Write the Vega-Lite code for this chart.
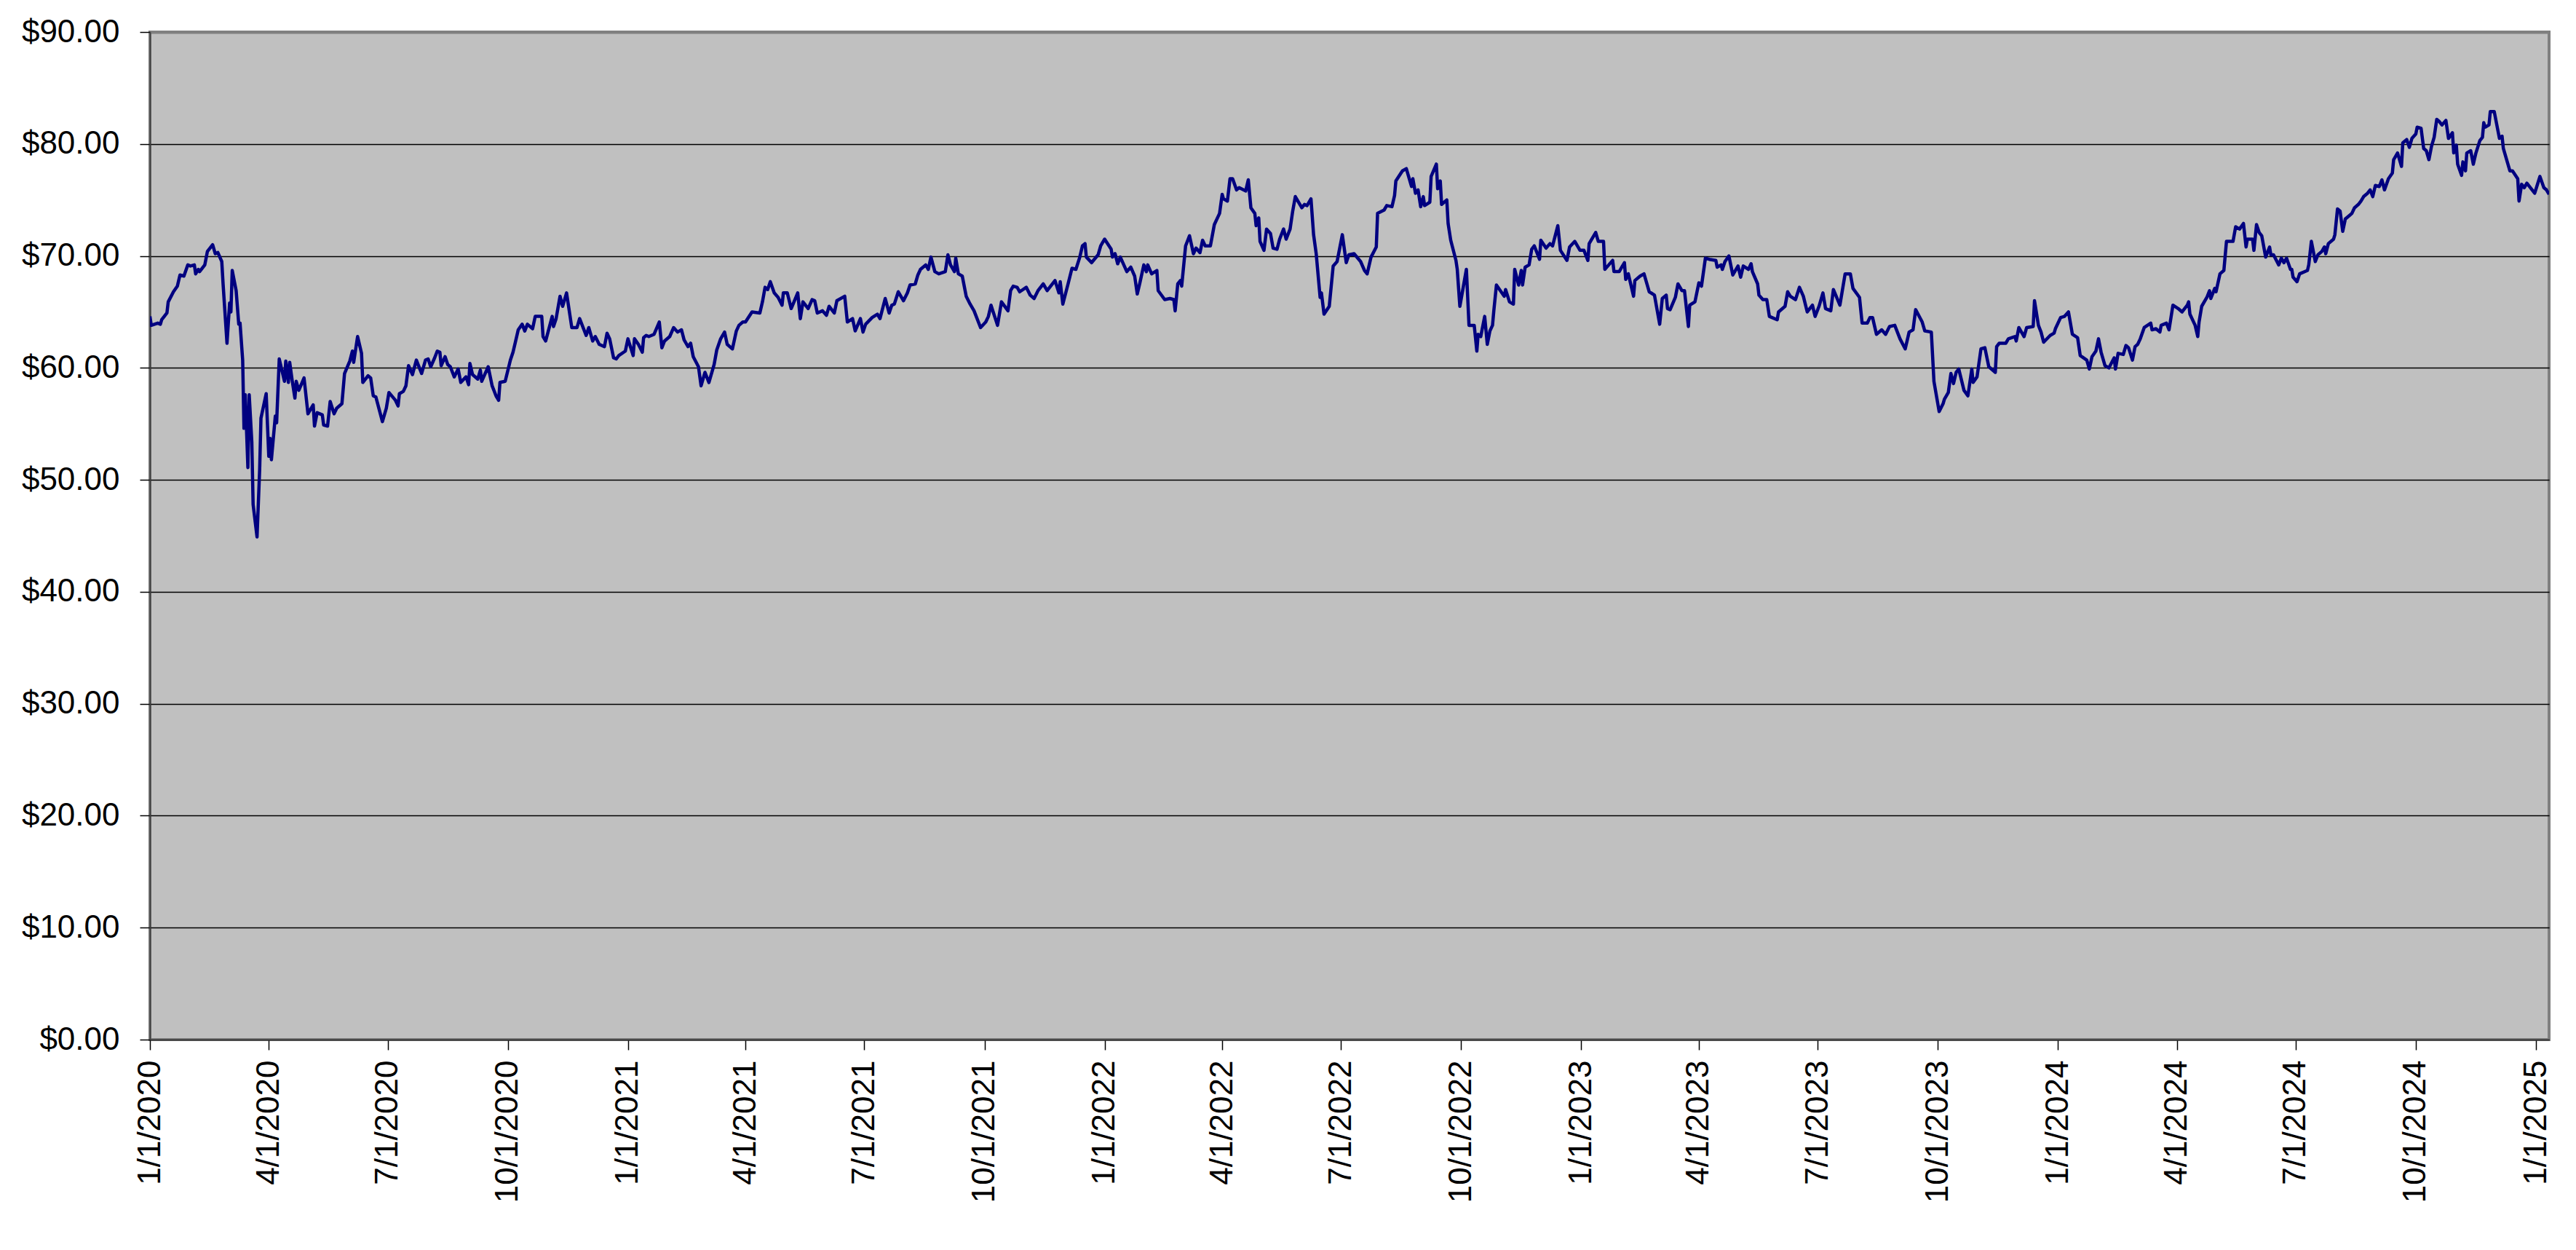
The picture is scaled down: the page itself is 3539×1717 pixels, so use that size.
{
  "$schema": "https://vega.github.io/schema/vega-lite/v6.json",
  "description": "Daily closing price, 1/1/2020 to 1/11/2025",
  "width": 3296,
  "height": 1384,
  "autosize": {"type": "none"},
  "padding": {"left": 206, "top": 44, "right": 37, "bottom": 289},
  "background": "white",
  "data": {
    "values": [
      {"date": "2020-01-01", "price": 64.6}, {"date": "2020-01-02", "price": 63.8}, {"date": "2020-01-07", "price": 64.0}, {"date": "2020-01-09", "price": 63.9},
      {"date": "2020-01-10", "price": 64.3}, {"date": "2020-01-14", "price": 64.9}, {"date": "2020-01-15", "price": 65.9}, {"date": "2020-01-19", "price": 66.8},
      {"date": "2020-01-22", "price": 67.3}, {"date": "2020-01-24", "price": 68.3}, {"date": "2020-01-27", "price": 68.2}, {"date": "2020-01-30", "price": 69.2},
      {"date": "2020-02-01", "price": 69.1}, {"date": "2020-02-04", "price": 69.2}, {"date": "2020-02-05", "price": 68.4}, {"date": "2020-02-07", "price": 68.8},
      {"date": "2020-02-08", "price": 68.6}, {"date": "2020-02-12", "price": 69.2}, {"date": "2020-02-14", "price": 70.4}, {"date": "2020-02-18", "price": 71.0},
      {"date": "2020-02-20", "price": 70.2}, {"date": "2020-02-22", "price": 70.3}, {"date": "2020-02-25", "price": 69.5}, {"date": "2020-02-26", "price": 67.5},
      {"date": "2020-02-29", "price": 62.2}, {"date": "2020-03-02", "price": 65.8}, {"date": "2020-03-03", "price": 65.0}, {"date": "2020-03-04", "price": 68.7},
      {"date": "2020-03-07", "price": 66.9}, {"date": "2020-03-09", "price": 63.9}, {"date": "2020-03-10", "price": 64.0}, {"date": "2020-03-12", "price": 60.7},
      {"date": "2020-03-13", "price": 54.6}, {"date": "2020-03-14", "price": 57.6}, {"date": "2020-03-16", "price": 51.1}, {"date": "2020-03-17", "price": 57.6},
      {"date": "2020-03-19", "price": 53.4}, {"date": "2020-03-20", "price": 47.8}, {"date": "2020-03-23", "price": 44.9}, {"date": "2020-03-25", "price": 50.9},
      {"date": "2020-03-26", "price": 55.5}, {"date": "2020-03-30", "price": 57.7}, {"date": "2020-04-01", "price": 52.1}, {"date": "2020-04-02", "price": 53.7},
      {"date": "2020-04-03", "price": 51.8}, {"date": "2020-04-06", "price": 55.7}, {"date": "2020-04-07", "price": 55.1}, {"date": "2020-04-09", "price": 60.8},
      {"date": "2020-04-13", "price": 58.8}, {"date": "2020-04-14", "price": 60.6}, {"date": "2020-04-16", "price": 58.7}, {"date": "2020-04-17", "price": 60.5},
      {"date": "2020-04-19", "price": 58.8}, {"date": "2020-04-21", "price": 57.3}, {"date": "2020-04-22", "price": 58.8}, {"date": "2020-04-24", "price": 58.0},
      {"date": "2020-04-28", "price": 59.1}, {"date": "2020-05-01", "price": 55.9}, {"date": "2020-05-05", "price": 56.7}, {"date": "2020-05-06", "price": 54.8},
      {"date": "2020-05-08", "price": 56.0}, {"date": "2020-05-12", "price": 55.8}, {"date": "2020-05-13", "price": 54.9}, {"date": "2020-05-16", "price": 54.8},
      {"date": "2020-05-18", "price": 57.0}, {"date": "2020-05-21", "price": 55.9}, {"date": "2020-05-23", "price": 56.4}, {"date": "2020-05-27", "price": 56.8},
      {"date": "2020-05-29", "price": 59.5}, {"date": "2020-06-02", "price": 60.6}, {"date": "2020-06-04", "price": 61.5}, {"date": "2020-06-05", "price": 60.5},
      {"date": "2020-06-08", "price": 62.8}, {"date": "2020-06-11", "price": 61.3}, {"date": "2020-06-12", "price": 58.7}, {"date": "2020-06-16", "price": 59.3},
      {"date": "2020-06-18", "price": 59.1}, {"date": "2020-06-20", "price": 57.5}, {"date": "2020-06-22", "price": 57.4}, {"date": "2020-06-27", "price": 55.2},
      {"date": "2020-06-30", "price": 56.4}, {"date": "2020-07-02", "price": 57.8}, {"date": "2020-07-07", "price": 57.1}, {"date": "2020-07-09", "price": 56.6},
      {"date": "2020-07-10", "price": 57.7}, {"date": "2020-07-13", "price": 57.9}, {"date": "2020-07-15", "price": 58.4}, {"date": "2020-07-17", "price": 60.2},
      {"date": "2020-07-20", "price": 59.4}, {"date": "2020-07-23", "price": 60.7}, {"date": "2020-07-27", "price": 59.5}, {"date": "2020-07-30", "price": 60.7},
      {"date": "2020-08-01", "price": 60.8}, {"date": "2020-08-03", "price": 60.1}, {"date": "2020-08-06", "price": 60.9}, {"date": "2020-08-08", "price": 61.5},
      {"date": "2020-08-10", "price": 61.4}, {"date": "2020-08-11", "price": 60.2}, {"date": "2020-08-14", "price": 61.0}, {"date": "2020-08-16", "price": 60.3},
      {"date": "2020-08-18", "price": 60.1}, {"date": "2020-08-21", "price": 59.2}, {"date": "2020-08-24", "price": 59.9}, {"date": "2020-08-26", "price": 58.7},
      {"date": "2020-08-30", "price": 59.2}, {"date": "2020-09-01", "price": 58.5}, {"date": "2020-09-02", "price": 60.4}, {"date": "2020-09-04", "price": 59.4},
      {"date": "2020-09-08", "price": 59.0}, {"date": "2020-09-10", "price": 59.8}, {"date": "2020-09-11", "price": 58.8}, {"date": "2020-09-16", "price": 60.1},
      {"date": "2020-09-19", "price": 58.4}, {"date": "2020-09-22", "price": 57.5}, {"date": "2020-09-24", "price": 57.1}, {"date": "2020-09-25", "price": 58.7},
      {"date": "2020-09-29", "price": 58.8}, {"date": "2020-10-03", "price": 60.7}, {"date": "2020-10-05", "price": 61.4}, {"date": "2020-10-07", "price": 62.4},
      {"date": "2020-10-09", "price": 63.4}, {"date": "2020-10-12", "price": 63.9}, {"date": "2020-10-14", "price": 63.3}, {"date": "2020-10-16", "price": 63.9},
      {"date": "2020-10-20", "price": 63.5}, {"date": "2020-10-22", "price": 64.6}, {"date": "2020-10-27", "price": 64.6}, {"date": "2020-10-28", "price": 62.8},
      {"date": "2020-10-30", "price": 62.4}, {"date": "2020-11-04", "price": 64.6}, {"date": "2020-11-05", "price": 63.7}, {"date": "2020-11-07", "price": 64.4},
      {"date": "2020-11-10", "price": 66.4}, {"date": "2020-11-12", "price": 65.5}, {"date": "2020-11-15", "price": 66.7}, {"date": "2020-11-19", "price": 63.6},
      {"date": "2020-11-23", "price": 63.6}, {"date": "2020-11-25", "price": 64.4}, {"date": "2020-11-30", "price": 62.9}, {"date": "2020-12-02", "price": 63.6},
      {"date": "2020-12-05", "price": 62.4}, {"date": "2020-12-07", "price": 62.8}, {"date": "2020-12-10", "price": 62.1}, {"date": "2020-12-14", "price": 61.9},
      {"date": "2020-12-16", "price": 63.1}, {"date": "2020-12-18", "price": 62.6}, {"date": "2020-12-21", "price": 60.9}, {"date": "2020-12-23", "price": 60.8},
      {"date": "2020-12-25", "price": 61.1}, {"date": "2020-12-30", "price": 61.5}, {"date": "2021-01-01", "price": 62.6}, {"date": "2021-01-05", "price": 61.1},
      {"date": "2021-01-06", "price": 62.6}, {"date": "2021-01-09", "price": 62.1}, {"date": "2021-01-12", "price": 61.4}, {"date": "2021-01-13", "price": 62.7},
      {"date": "2021-01-15", "price": 62.9}, {"date": "2021-01-17", "price": 62.8}, {"date": "2021-01-21", "price": 63.0}, {"date": "2021-01-25", "price": 64.1},
      {"date": "2021-01-27", "price": 61.8}, {"date": "2021-01-29", "price": 62.4}, {"date": "2021-02-02", "price": 62.8}, {"date": "2021-02-05", "price": 63.6},
      {"date": "2021-02-08", "price": 63.2}, {"date": "2021-02-11", "price": 63.4}, {"date": "2021-02-13", "price": 62.5}, {"date": "2021-02-16", "price": 61.9},
      {"date": "2021-02-18", "price": 62.2}, {"date": "2021-02-20", "price": 61.0}, {"date": "2021-02-24", "price": 60.1}, {"date": "2021-02-26", "price": 58.4},
      {"date": "2021-03-01", "price": 59.6}, {"date": "2021-03-04", "price": 58.7}, {"date": "2021-03-08", "price": 60.3}, {"date": "2021-03-10", "price": 61.6},
      {"date": "2021-03-13", "price": 62.6}, {"date": "2021-03-16", "price": 63.2}, {"date": "2021-03-18", "price": 62.1}, {"date": "2021-03-22", "price": 61.7},
      {"date": "2021-03-25", "price": 63.3}, {"date": "2021-03-27", "price": 63.8}, {"date": "2021-03-30", "price": 64.1}, {"date": "2021-04-01", "price": 64.1},
      {"date": "2021-04-06", "price": 65.0}, {"date": "2021-04-12", "price": 64.9}, {"date": "2021-04-14", "price": 65.9}, {"date": "2021-04-16", "price": 67.2},
      {"date": "2021-04-18", "price": 67.0}, {"date": "2021-04-20", "price": 67.7}, {"date": "2021-04-23", "price": 66.7}, {"date": "2021-04-26", "price": 66.3},
      {"date": "2021-04-29", "price": 65.6}, {"date": "2021-04-30", "price": 66.7}, {"date": "2021-05-03", "price": 66.7}, {"date": "2021-05-06", "price": 65.3},
      {"date": "2021-05-11", "price": 66.7}, {"date": "2021-05-13", "price": 64.4}, {"date": "2021-05-15", "price": 65.9}, {"date": "2021-05-19", "price": 65.3},
      {"date": "2021-05-22", "price": 66.1}, {"date": "2021-05-24", "price": 66.0}, {"date": "2021-05-26", "price": 64.9}, {"date": "2021-05-30", "price": 65.1},
      {"date": "2021-06-02", "price": 64.7}, {"date": "2021-06-04", "price": 65.5}, {"date": "2021-06-08", "price": 64.9}, {"date": "2021-06-10", "price": 66.0},
      {"date": "2021-06-16", "price": 66.4}, {"date": "2021-06-18", "price": 64.1}, {"date": "2021-06-22", "price": 64.4}, {"date": "2021-06-24", "price": 63.3},
      {"date": "2021-06-28", "price": 64.4}, {"date": "2021-06-30", "price": 63.2}, {"date": "2021-07-02", "price": 63.9}, {"date": "2021-07-07", "price": 64.5},
      {"date": "2021-07-11", "price": 64.8}, {"date": "2021-07-13", "price": 64.4}, {"date": "2021-07-17", "price": 66.2}, {"date": "2021-07-20", "price": 64.9},
      {"date": "2021-07-22", "price": 65.6}, {"date": "2021-07-24", "price": 65.7}, {"date": "2021-07-27", "price": 66.8}, {"date": "2021-07-31", "price": 66.0},
      {"date": "2021-08-03", "price": 66.7}, {"date": "2021-08-05", "price": 67.4}, {"date": "2021-08-09", "price": 67.5}, {"date": "2021-08-11", "price": 68.3},
      {"date": "2021-08-13", "price": 68.8}, {"date": "2021-08-17", "price": 69.2}, {"date": "2021-08-19", "price": 68.8}, {"date": "2021-08-21", "price": 69.9},
      {"date": "2021-08-24", "price": 68.6}, {"date": "2021-08-27", "price": 68.4}, {"date": "2021-09-01", "price": 68.6}, {"date": "2021-09-03", "price": 70.1},
      {"date": "2021-09-05", "price": 69.2}, {"date": "2021-09-08", "price": 68.6}, {"date": "2021-09-09", "price": 69.8}, {"date": "2021-09-11", "price": 68.4},
      {"date": "2021-09-14", "price": 68.2}, {"date": "2021-09-17", "price": 66.4}, {"date": "2021-09-20", "price": 65.7}, {"date": "2021-09-23", "price": 65.1},
      {"date": "2021-09-28", "price": 63.6}, {"date": "2021-10-02", "price": 64.1}, {"date": "2021-10-04", "price": 64.6}, {"date": "2021-10-06", "price": 65.6},
      {"date": "2021-10-11", "price": 63.8}, {"date": "2021-10-14", "price": 65.9}, {"date": "2021-10-19", "price": 65.1}, {"date": "2021-10-21", "price": 66.9},
      {"date": "2021-10-23", "price": 67.3}, {"date": "2021-10-26", "price": 67.2}, {"date": "2021-10-28", "price": 66.8}, {"date": "2021-11-02", "price": 67.2},
      {"date": "2021-11-05", "price": 66.5}, {"date": "2021-11-08", "price": 66.2}, {"date": "2021-11-11", "price": 66.9}, {"date": "2021-11-15", "price": 67.5},
      {"date": "2021-11-18", "price": 66.9}, {"date": "2021-11-24", "price": 67.8}, {"date": "2021-11-27", "price": 66.7}, {"date": "2021-11-28", "price": 67.7},
      {"date": "2021-11-30", "price": 65.7}, {"date": "2021-12-04", "price": 67.5}, {"date": "2021-12-07", "price": 68.9}, {"date": "2021-12-10", "price": 68.8},
      {"date": "2021-12-13", "price": 69.9}, {"date": "2021-12-15", "price": 70.9}, {"date": "2021-12-17", "price": 71.1}, {"date": "2021-12-18", "price": 69.9},
      {"date": "2021-12-22", "price": 69.4}, {"date": "2021-12-27", "price": 70.1}, {"date": "2021-12-29", "price": 70.9}, {"date": "2022-01-01", "price": 71.5},
      {"date": "2022-01-06", "price": 70.6}, {"date": "2022-01-07", "price": 69.9}, {"date": "2022-01-09", "price": 70.2}, {"date": "2022-01-11", "price": 69.3},
      {"date": "2022-01-13", "price": 69.9}, {"date": "2022-01-18", "price": 68.6}, {"date": "2022-01-21", "price": 69.0}, {"date": "2022-01-24", "price": 68.2},
      {"date": "2022-01-26", "price": 66.6}, {"date": "2022-01-28", "price": 67.6}, {"date": "2022-01-31", "price": 69.2}, {"date": "2022-02-02", "price": 68.6},
      {"date": "2022-02-03", "price": 69.2}, {"date": "2022-02-06", "price": 68.4}, {"date": "2022-02-10", "price": 68.7}, {"date": "2022-02-11", "price": 66.9},
      {"date": "2022-02-16", "price": 66.1}, {"date": "2022-02-20", "price": 66.2}, {"date": "2022-02-23", "price": 66.1}, {"date": "2022-02-24", "price": 65.1},
      {"date": "2022-02-26", "price": 67.5}, {"date": "2022-02-28", "price": 67.8}, {"date": "2022-03-01", "price": 67.3}, {"date": "2022-03-04", "price": 70.9},
      {"date": "2022-03-07", "price": 71.8}, {"date": "2022-03-10", "price": 70.2}, {"date": "2022-03-12", "price": 70.7}, {"date": "2022-03-15", "price": 70.3},
      {"date": "2022-03-17", "price": 71.4}, {"date": "2022-03-19", "price": 70.9}, {"date": "2022-03-23", "price": 70.9}, {"date": "2022-03-26", "price": 72.8},
      {"date": "2022-03-30", "price": 73.8}, {"date": "2022-04-01", "price": 75.5}, {"date": "2022-04-02", "price": 75.1}, {"date": "2022-04-05", "price": 74.9},
      {"date": "2022-04-07", "price": 76.9}, {"date": "2022-04-09", "price": 76.9}, {"date": "2022-04-12", "price": 75.9}, {"date": "2022-04-14", "price": 76.1},
      {"date": "2022-04-19", "price": 75.8}, {"date": "2022-04-21", "price": 76.8}, {"date": "2022-04-23", "price": 74.3}, {"date": "2022-04-26", "price": 73.8},
      {"date": "2022-04-27", "price": 72.7}, {"date": "2022-04-29", "price": 73.4}, {"date": "2022-04-30", "price": 71.3}, {"date": "2022-05-03", "price": 70.5},
      {"date": "2022-05-05", "price": 72.4}, {"date": "2022-05-08", "price": 72.0}, {"date": "2022-05-10", "price": 70.7}, {"date": "2022-05-13", "price": 70.6},
      {"date": "2022-05-15", "price": 71.5}, {"date": "2022-05-18", "price": 72.4}, {"date": "2022-05-20", "price": 71.5}, {"date": "2022-05-23", "price": 72.4},
      {"date": "2022-05-25", "price": 74.0}, {"date": "2022-05-27", "price": 75.3}, {"date": "2022-06-01", "price": 74.3}, {"date": "2022-06-03", "price": 74.6},
      {"date": "2022-06-05", "price": 74.5}, {"date": "2022-06-08", "price": 75.1}, {"date": "2022-06-10", "price": 71.9}, {"date": "2022-06-12", "price": 70.2},
      {"date": "2022-06-15", "price": 66.3}, {"date": "2022-06-16", "price": 66.7}, {"date": "2022-06-18", "price": 64.8}, {"date": "2022-06-22", "price": 65.5},
      {"date": "2022-06-25", "price": 69.1}, {"date": "2022-06-28", "price": 69.5}, {"date": "2022-07-02", "price": 71.9}, {"date": "2022-07-05", "price": 69.4},
      {"date": "2022-07-07", "price": 70.1}, {"date": "2022-07-11", "price": 70.2}, {"date": "2022-07-16", "price": 69.5}, {"date": "2022-07-19", "price": 68.7},
      {"date": "2022-07-21", "price": 68.4}, {"date": "2022-07-24", "price": 69.9}, {"date": "2022-07-28", "price": 70.8}, {"date": "2022-07-29", "price": 73.8},
      {"date": "2022-08-03", "price": 74.1}, {"date": "2022-08-05", "price": 74.5}, {"date": "2022-08-09", "price": 74.4}, {"date": "2022-08-11", "price": 75.4},
      {"date": "2022-08-12", "price": 76.7}, {"date": "2022-08-17", "price": 77.6}, {"date": "2022-08-20", "price": 77.8}, {"date": "2022-08-24", "price": 76.2},
      {"date": "2022-08-25", "price": 76.9}, {"date": "2022-08-27", "price": 75.6}, {"date": "2022-08-29", "price": 75.9}, {"date": "2022-08-31", "price": 74.4},
      {"date": "2022-09-02", "price": 75.3}, {"date": "2022-09-03", "price": 74.5}, {"date": "2022-09-07", "price": 74.8}, {"date": "2022-09-08", "price": 77.1},
      {"date": "2022-09-12", "price": 78.2}, {"date": "2022-09-13", "price": 76.0}, {"date": "2022-09-15", "price": 76.7}, {"date": "2022-09-16", "price": 74.6},
      {"date": "2022-09-20", "price": 75.0}, {"date": "2022-09-21", "price": 72.9}, {"date": "2022-09-23", "price": 71.4}, {"date": "2022-09-27", "price": 69.6},
      {"date": "2022-09-28", "price": 68.8}, {"date": "2022-09-30", "price": 65.5}, {"date": "2022-10-05", "price": 68.8}, {"date": "2022-10-07", "price": 63.8},
      {"date": "2022-10-11", "price": 63.8}, {"date": "2022-10-13", "price": 61.5}, {"date": "2022-10-14", "price": 63.0}, {"date": "2022-10-16", "price": 62.8},
      {"date": "2022-10-19", "price": 64.6}, {"date": "2022-10-21", "price": 62.1}, {"date": "2022-10-23", "price": 63.3}, {"date": "2022-10-25", "price": 63.8},
      {"date": "2022-10-26", "price": 65.1}, {"date": "2022-10-28", "price": 67.4}, {"date": "2022-10-31", "price": 66.9}, {"date": "2022-11-03", "price": 66.4},
      {"date": "2022-11-04", "price": 67.0}, {"date": "2022-11-07", "price": 65.9}, {"date": "2022-11-10", "price": 65.7}, {"date": "2022-11-11", "price": 68.8},
      {"date": "2022-11-14", "price": 67.4}, {"date": "2022-11-16", "price": 68.7}, {"date": "2022-11-17", "price": 67.4}, {"date": "2022-11-19", "price": 69.0},
      {"date": "2022-11-22", "price": 69.2}, {"date": "2022-11-24", "price": 70.6}, {"date": "2022-11-26", "price": 70.9}, {"date": "2022-11-30", "price": 69.7},
      {"date": "2022-12-01", "price": 71.4}, {"date": "2022-12-05", "price": 70.7}, {"date": "2022-12-08", "price": 71.1}, {"date": "2022-12-10", "price": 70.9},
      {"date": "2022-12-12", "price": 71.8}, {"date": "2022-12-14", "price": 72.7}, {"date": "2022-12-16", "price": 70.5}, {"date": "2022-12-21", "price": 69.6},
      {"date": "2022-12-23", "price": 70.8}, {"date": "2022-12-27", "price": 71.3}, {"date": "2022-12-31", "price": 70.5}, {"date": "2023-01-03", "price": 70.5},
      {"date": "2023-01-06", "price": 69.6}, {"date": "2023-01-07", "price": 71.1}, {"date": "2023-01-12", "price": 72.1}, {"date": "2023-01-14", "price": 71.3},
      {"date": "2023-01-18", "price": 71.3}, {"date": "2023-01-19", "price": 68.8}, {"date": "2023-01-22", "price": 69.2}, {"date": "2023-01-25", "price": 69.6},
      {"date": "2023-01-26", "price": 68.6}, {"date": "2023-01-30", "price": 68.6}, {"date": "2023-02-01", "price": 69.0}, {"date": "2023-02-03", "price": 69.4},
      {"date": "2023-02-04", "price": 67.9}, {"date": "2023-02-06", "price": 68.4}, {"date": "2023-02-10", "price": 66.4}, {"date": "2023-02-11", "price": 67.8},
      {"date": "2023-02-15", "price": 68.2}, {"date": "2023-02-18", "price": 68.4}, {"date": "2023-02-22", "price": 66.8}, {"date": "2023-02-26", "price": 66.5},
      {"date": "2023-03-02", "price": 63.9}, {"date": "2023-03-04", "price": 66.2}, {"date": "2023-03-07", "price": 66.5}, {"date": "2023-03-08", "price": 65.3},
      {"date": "2023-03-10", "price": 65.2}, {"date": "2023-03-14", "price": 66.3}, {"date": "2023-03-16", "price": 67.5}, {"date": "2023-03-19", "price": 66.9},
      {"date": "2023-03-21", "price": 66.9}, {"date": "2023-03-24", "price": 63.7}, {"date": "2023-03-25", "price": 65.6}, {"date": "2023-03-29", "price": 65.9},
      {"date": "2023-04-01", "price": 67.6}, {"date": "2023-04-03", "price": 67.3}, {"date": "2023-04-06", "price": 69.8}, {"date": "2023-04-09", "price": 69.7},
      {"date": "2023-04-14", "price": 69.6}, {"date": "2023-04-15", "price": 69.0}, {"date": "2023-04-18", "price": 69.2}, {"date": "2023-04-19", "price": 68.8},
      {"date": "2023-04-21", "price": 69.5}, {"date": "2023-04-24", "price": 70.0}, {"date": "2023-04-27", "price": 68.3}, {"date": "2023-05-01", "price": 69.1},
      {"date": "2023-05-03", "price": 68.1}, {"date": "2023-05-05", "price": 69.1}, {"date": "2023-05-09", "price": 68.8}, {"date": "2023-05-11", "price": 69.3},
      {"date": "2023-05-12", "price": 68.6}, {"date": "2023-05-16", "price": 67.5}, {"date": "2023-05-17", "price": 66.5}, {"date": "2023-05-20", "price": 66.1},
      {"date": "2023-05-23", "price": 66.1}, {"date": "2023-05-25", "price": 64.6}, {"date": "2023-05-31", "price": 64.3}, {"date": "2023-06-01", "price": 65.0},
      {"date": "2023-06-06", "price": 65.5}, {"date": "2023-06-08", "price": 66.8}, {"date": "2023-06-10", "price": 66.4}, {"date": "2023-06-14", "price": 66.1},
      {"date": "2023-06-17", "price": 67.2}, {"date": "2023-06-20", "price": 66.4}, {"date": "2023-06-23", "price": 65.0}, {"date": "2023-06-27", "price": 65.6},
      {"date": "2023-06-29", "price": 64.6}, {"date": "2023-07-02", "price": 65.5}, {"date": "2023-07-05", "price": 66.7}, {"date": "2023-07-07", "price": 65.3},
      {"date": "2023-07-11", "price": 65.1}, {"date": "2023-07-13", "price": 67.0}, {"date": "2023-07-18", "price": 65.6}, {"date": "2023-07-22", "price": 68.4},
      {"date": "2023-07-26", "price": 68.4}, {"date": "2023-07-28", "price": 67.1}, {"date": "2023-08-02", "price": 66.3}, {"date": "2023-08-04", "price": 64.0},
      {"date": "2023-08-08", "price": 64.0}, {"date": "2023-08-10", "price": 64.5}, {"date": "2023-08-12", "price": 64.5}, {"date": "2023-08-15", "price": 63.0},
      {"date": "2023-08-19", "price": 63.4}, {"date": "2023-08-22", "price": 63.0}, {"date": "2023-08-25", "price": 63.7}, {"date": "2023-08-29", "price": 63.8},
      {"date": "2023-09-02", "price": 62.6}, {"date": "2023-09-06", "price": 61.7}, {"date": "2023-09-09", "price": 63.2}, {"date": "2023-09-12", "price": 63.4},
      {"date": "2023-09-14", "price": 65.2}, {"date": "2023-09-19", "price": 64.1}, {"date": "2023-09-21", "price": 63.3}, {"date": "2023-09-26", "price": 63.2},
      {"date": "2023-09-28", "price": 58.8}, {"date": "2023-10-02", "price": 56.1}, {"date": "2023-10-05", "price": 56.8}, {"date": "2023-10-06", "price": 57.2},
      {"date": "2023-10-09", "price": 57.8}, {"date": "2023-10-11", "price": 59.5}, {"date": "2023-10-13", "price": 58.6}, {"date": "2023-10-15", "price": 59.6},
      {"date": "2023-10-17", "price": 59.9}, {"date": "2023-10-21", "price": 58.0}, {"date": "2023-10-24", "price": 57.5}, {"date": "2023-10-27", "price": 59.9},
      {"date": "2023-10-28", "price": 58.7}, {"date": "2023-10-31", "price": 59.2}, {"date": "2023-11-03", "price": 61.7}, {"date": "2023-11-06", "price": 61.8},
      {"date": "2023-11-09", "price": 60.1}, {"date": "2023-11-14", "price": 59.6}, {"date": "2023-11-15", "price": 61.9}, {"date": "2023-11-17", "price": 62.2},
      {"date": "2023-11-22", "price": 62.2}, {"date": "2023-11-24", "price": 62.6}, {"date": "2023-11-29", "price": 62.8}, {"date": "2023-11-30", "price": 62.4},
      {"date": "2023-12-02", "price": 63.6}, {"date": "2023-12-06", "price": 62.8}, {"date": "2023-12-08", "price": 63.6}, {"date": "2023-12-13", "price": 63.7},
      {"date": "2023-12-14", "price": 66.0}, {"date": "2023-12-17", "price": 63.8}, {"date": "2023-12-19", "price": 63.2}, {"date": "2023-12-21", "price": 62.3},
      {"date": "2023-12-26", "price": 62.9}, {"date": "2023-12-29", "price": 63.1}, {"date": "2023-12-30", "price": 63.5}, {"date": "2024-01-03", "price": 64.5},
      {"date": "2024-01-06", "price": 64.6}, {"date": "2024-01-09", "price": 65.0}, {"date": "2024-01-12", "price": 63.0}, {"date": "2024-01-16", "price": 62.7},
      {"date": "2024-01-18", "price": 61.1}, {"date": "2024-01-23", "price": 60.7}, {"date": "2024-01-25", "price": 59.9}, {"date": "2024-01-27", "price": 61.0},
      {"date": "2024-01-30", "price": 61.5}, {"date": "2024-02-01", "price": 62.6}, {"date": "2024-02-03", "price": 61.4}, {"date": "2024-02-06", "price": 60.2},
      {"date": "2024-02-09", "price": 60.0}, {"date": "2024-02-13", "price": 60.9}, {"date": "2024-02-14", "price": 59.9}, {"date": "2024-02-16", "price": 61.3},
      {"date": "2024-02-20", "price": 61.2}, {"date": "2024-02-22", "price": 62.0}, {"date": "2024-02-24", "price": 61.8}, {"date": "2024-02-27", "price": 60.7},
      {"date": "2024-02-29", "price": 61.9}, {"date": "2024-03-02", "price": 62.1}, {"date": "2024-03-04", "price": 62.6}, {"date": "2024-03-07", "price": 63.6},
      {"date": "2024-03-12", "price": 64.0}, {"date": "2024-03-13", "price": 63.4}, {"date": "2024-03-16", "price": 63.5}, {"date": "2024-03-19", "price": 63.2},
      {"date": "2024-03-20", "price": 63.8}, {"date": "2024-03-24", "price": 64.0}, {"date": "2024-03-26", "price": 63.4}, {"date": "2024-03-29", "price": 65.6},
      {"date": "2024-04-02", "price": 65.3}, {"date": "2024-04-05", "price": 65.0}, {"date": "2024-04-09", "price": 65.6}, {"date": "2024-04-10", "price": 65.9},
      {"date": "2024-04-11", "price": 64.8}, {"date": "2024-04-15", "price": 63.8}, {"date": "2024-04-17", "price": 62.8}, {"date": "2024-04-18", "price": 64.1},
      {"date": "2024-04-20", "price": 65.5}, {"date": "2024-04-24", "price": 66.3}, {"date": "2024-04-26", "price": 66.9}, {"date": "2024-04-27", "price": 66.2},
      {"date": "2024-04-30", "price": 67.1}, {"date": "2024-05-01", "price": 66.8}, {"date": "2024-05-04", "price": 68.4}, {"date": "2024-05-07", "price": 68.7},
      {"date": "2024-05-09", "price": 71.3}, {"date": "2024-05-14", "price": 71.3}, {"date": "2024-05-16", "price": 72.6}, {"date": "2024-05-19", "price": 72.4},
      {"date": "2024-05-22", "price": 72.9}, {"date": "2024-05-24", "price": 70.8}, {"date": "2024-05-25", "price": 71.5}, {"date": "2024-05-29", "price": 71.5},
      {"date": "2024-05-30", "price": 70.5}, {"date": "2024-06-01", "price": 72.8}, {"date": "2024-06-03", "price": 72.1}, {"date": "2024-06-05", "price": 71.8},
      {"date": "2024-06-08", "price": 69.9}, {"date": "2024-06-11", "price": 70.8}, {"date": "2024-06-12", "price": 70.1}, {"date": "2024-06-14", "price": 70.1},
      {"date": "2024-06-18", "price": 69.2}, {"date": "2024-06-20", "price": 69.8}, {"date": "2024-06-22", "price": 69.4}, {"date": "2024-06-24", "price": 69.8},
      {"date": "2024-06-27", "price": 68.8}, {"date": "2024-06-28", "price": 68.8}, {"date": "2024-06-29", "price": 68.1}, {"date": "2024-07-02", "price": 67.7},
      {"date": "2024-07-04", "price": 68.4}, {"date": "2024-07-10", "price": 68.7}, {"date": "2024-07-11", "price": 69.2}, {"date": "2024-07-13", "price": 71.3},
      {"date": "2024-07-16", "price": 69.5}, {"date": "2024-07-18", "price": 70.1}, {"date": "2024-07-21", "price": 70.4}, {"date": "2024-07-23", "price": 70.8},
      {"date": "2024-07-24", "price": 70.2}, {"date": "2024-07-26", "price": 71.1}, {"date": "2024-07-30", "price": 71.5}, {"date": "2024-07-31", "price": 71.9},
      {"date": "2024-08-02", "price": 74.2}, {"date": "2024-08-04", "price": 74.0}, {"date": "2024-08-06", "price": 72.2}, {"date": "2024-08-08", "price": 73.3},
      {"date": "2024-08-11", "price": 73.6}, {"date": "2024-08-13", "price": 73.8}, {"date": "2024-08-15", "price": 74.3}, {"date": "2024-08-18", "price": 74.6},
      {"date": "2024-08-20", "price": 74.9}, {"date": "2024-08-22", "price": 75.3}, {"date": "2024-08-25", "price": 75.6}, {"date": "2024-08-27", "price": 75.9},
      {"date": "2024-08-29", "price": 75.3}, {"date": "2024-08-31", "price": 76.3}, {"date": "2024-09-03", "price": 76.2}, {"date": "2024-09-05", "price": 76.8},
      {"date": "2024-09-07", "price": 75.9}, {"date": "2024-09-10", "price": 76.9}, {"date": "2024-09-13", "price": 77.4}, {"date": "2024-09-14", "price": 78.6},
      {"date": "2024-09-17", "price": 79.2}, {"date": "2024-09-20", "price": 78.0}, {"date": "2024-09-21", "price": 80.1}, {"date": "2024-09-24", "price": 80.4},
      {"date": "2024-09-26", "price": 79.7}, {"date": "2024-09-28", "price": 80.5}, {"date": "2024-10-01", "price": 80.9}, {"date": "2024-10-02", "price": 81.5},
      {"date": "2024-10-05", "price": 81.4}, {"date": "2024-10-07", "price": 79.6}, {"date": "2024-10-09", "price": 79.4}, {"date": "2024-10-11", "price": 78.6},
      {"date": "2024-10-13", "price": 79.8}, {"date": "2024-10-15", "price": 80.6}, {"date": "2024-10-17", "price": 82.2}, {"date": "2024-10-19", "price": 82.0},
      {"date": "2024-10-21", "price": 81.7}, {"date": "2024-10-24", "price": 82.1}, {"date": "2024-10-26", "price": 80.5}, {"date": "2024-10-29", "price": 81.0},
      {"date": "2024-10-30", "price": 79.2}, {"date": "2024-11-01", "price": 79.9}, {"date": "2024-11-02", "price": 78.2}, {"date": "2024-11-05", "price": 77.2},
      {"date": "2024-11-06", "price": 78.4}, {"date": "2024-11-08", "price": 77.6}, {"date": "2024-11-09", "price": 79.2}, {"date": "2024-11-12", "price": 79.4},
      {"date": "2024-11-14", "price": 78.2}, {"date": "2024-11-16", "price": 79.2}, {"date": "2024-11-19", "price": 80.3}, {"date": "2024-11-21", "price": 80.6},
      {"date": "2024-11-22", "price": 81.9}, {"date": "2024-11-23", "price": 81.5}, {"date": "2024-11-26", "price": 81.7}, {"date": "2024-11-27", "price": 82.9},
      {"date": "2024-11-30", "price": 82.9}, {"date": "2024-12-04", "price": 80.5}, {"date": "2024-12-06", "price": 80.7}, {"date": "2024-12-07", "price": 79.6},
      {"date": "2024-12-10", "price": 78.4}, {"date": "2024-12-12", "price": 77.6}, {"date": "2024-12-14", "price": 77.6}, {"date": "2024-12-18", "price": 76.9},
      {"date": "2024-12-19", "price": 74.9}, {"date": "2024-12-21", "price": 76.4}, {"date": "2024-12-23", "price": 76.1}, {"date": "2024-12-25", "price": 76.5},
      {"date": "2024-12-31", "price": 75.6}, {"date": "2025-01-04", "price": 77.1}, {"date": "2025-01-07", "price": 76.1}, {"date": "2025-01-09", "price": 75.9},
      {"date": "2025-01-11", "price": 75.5}
    ]
  },
  "mark": {"type": "line", "color": "#000080", "strokeWidth": 4.5, "strokeJoin": "round", "clip": true},
  "encoding": {
    "x": {
      "field": "date",
      "type": "temporal",
      "scale": {
        "type": "utc",
        "domain": [
          {"year": 2020, "month": 1, "date": 1, "utc": true},
          {"year": 2025, "month": 1, "date": 11, "utc": true}
        ]
      },
      "axis": {
        "title": null,
        "format": "%-m/%-d/%Y",
        "labelAngle": -90,
        "labelPadding": 14,
        "labelLimit": 0,
        "labelFlush": false,
        "labelOverlap": false,
        "grid": false,
        "values": [
          {"year": 2020, "month": 1, "date": 1, "utc": true}, {"year": 2020, "month": 4, "date": 1, "utc": true},
          {"year": 2020, "month": 7, "date": 1, "utc": true}, {"year": 2020, "month": 10, "date": 1, "utc": true},
          {"year": 2021, "month": 1, "date": 1, "utc": true}, {"year": 2021, "month": 4, "date": 1, "utc": true},
          {"year": 2021, "month": 7, "date": 1, "utc": true}, {"year": 2021, "month": 10, "date": 1, "utc": true},
          {"year": 2022, "month": 1, "date": 1, "utc": true}, {"year": 2022, "month": 4, "date": 1, "utc": true},
          {"year": 2022, "month": 7, "date": 1, "utc": true}, {"year": 2022, "month": 10, "date": 1, "utc": true},
          {"year": 2023, "month": 1, "date": 1, "utc": true}, {"year": 2023, "month": 4, "date": 1, "utc": true},
          {"year": 2023, "month": 7, "date": 1, "utc": true}, {"year": 2023, "month": 10, "date": 1, "utc": true},
          {"year": 2024, "month": 1, "date": 1, "utc": true}, {"year": 2024, "month": 4, "date": 1, "utc": true},
          {"year": 2024, "month": 7, "date": 1, "utc": true}, {"year": 2024, "month": 10, "date": 1, "utc": true},
          {"year": 2025, "month": 1, "date": 1, "utc": true}
        ]
      }
    },
    "y": {
      "field": "price",
      "type": "quantitative",
      "scale": {"domain": [0, 90], "nice": false},
      "axis": {
        "title": null,
        "format": "$.2f",
        "values": [0, 10, 20, 30, 40, 50, 60, 70, 80, 90],
        "labelPadding": 28,
        "labelFlush": false,
        "grid": true,
        "gridColor": {"condition": {"test": "datum.value >= 90", "value": "#808080"}, "value": "#000000"},
        "gridWidth": {"condition": {"test": "datum.value >= 90", "value": 4}, "value": 1.5}
      }
    }
  },
  "config": {
    "view": {"fill": "#C0C0C0", "stroke": "#808080", "strokeWidth": 4},
    "axis": {
      "labelFont": "Liberation Sans",
      "labelFontSize": 44,
      "labelColor": "#000000",
      "domainColor": "#404040",
      "domainWidth": 2,
      "tickColor": "#000000",
      "tickWidth": 1.5,
      "tickSize": 14
    }
  }
}
